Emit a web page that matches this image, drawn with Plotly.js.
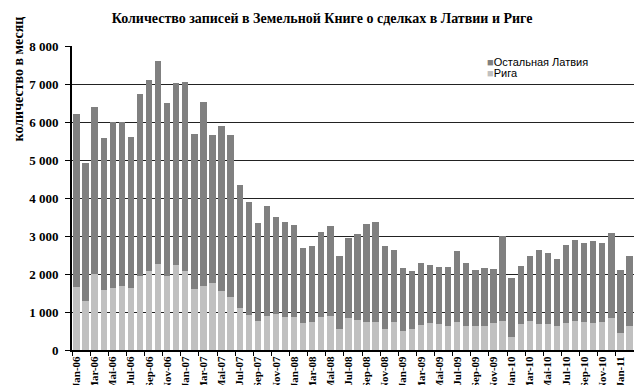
<!DOCTYPE html>
<html>
<head>
<meta charset="utf-8">
<script src="https://cdn.plot.ly/plotly-3.0.1.min.js"></script>
<style>html,body{margin:0;padding:0;background:#fff;}#chart{width:634px;height:385px;}</style>
</head>
<body>
<div id="chart"></div>
<script>
const months = [
  'Jan-06','Feb-06','Mar-06','Apr-06','Mai-06','Jun-06','Jul-06','Aug-06','Sep-06','Oct-06','Nov-06','Dec-06',
  'Jan-07','Feb-07','Mar-07','Apr-07','Mai-07','Jun-07','Jul-07','Aug-07','Sep-07','Oct-07','Nov-07','Dec-07',
  'Jan-08','Feb-08','Mar-08','Apr-08','Mai-08','Jun-08','Jul-08','Aug-08','Sep-08','Oct-08','Nov-08','Dec-08',
  'Jan-09','Feb-09','Mar-09','Apr-09','Mai-09','Jun-09','Jul-09','Aug-09','Sep-09','Oct-09','Nov-09','Dec-09',
  'Jan-10','Feb-10','Mar-10','Apr-10','Mai-10','Jun-10','Jul-10','Aug-10','Sep-10','Oct-10','Nov-10','Dec-10',
  'Jan-11','Feb-11'
];
// Total records per month (Latvia incl. Riga)
const totalLatvia = [
  6210,4920,6400,5580,6000,5990,5610,6750,7110,7600,6510,7030,
  7050,5690,6530,5670,5890,5670,4340,3890,3340,3790,3500,3370,
  3290,2680,2740,3100,3260,2470,2950,3050,3320,3370,2740,2630,
  2160,2080,2290,2240,2180,2180,2610,2290,2110,2160,2130,2990,
  1890,2210,2470,2630,2550,2390,2760,2890,2820,2870,2820,3080,
  2110,2470
];
// Riga
const riga = [
  1660,1290,2000,1580,1630,1680,1630,1950,2090,2260,1950,2240,
  2090,1610,1680,1760,1550,1400,1100,920,760,900,950,870,
  870,710,740,870,890,550,840,790,740,740,550,740,
  500,550,660,710,680,630,740,630,630,630,710,760,
  340,680,760,680,680,630,710,760,740,710,740,840,
  450,630
];
const restLatvia = totalLatvia.map((t, i) => t - riga[i]);
const seriesNames = ['Остальная Латвия', 'Рига'];
const seriesColors = ['#808080', '#c0c0c0'];

const serif = "'Liberation Serif', 'Times New Roman', serif";
const sans = "'Liberation Sans', Arial, sans-serif";

const traces = [
  {type:'bar', name:seriesNames[1], x: months, y: riga, marker:{color:seriesColors[1], line:{width:0}}},
  {type:'bar', name:seriesNames[0], x: months, y: restLatvia, marker:{color:seriesColors[0], line:{width:0}}}
];

const legendAnn = seriesNames.map((n, i) => ({
  text: '<span style="color:' + seriesColors[i] + '">■</span>' + n,
  xref:'paper', yref:'paper', x:0.735, y:0.948 - i*0.036, xanchor:'left', yanchor:'middle',
  showarrow:false, font:{family:sans, size:11, color:'#000'}
}));

const layout = {
  width: 634, height: 385,
  margin: {l:72, r:0, t:46, b:35, pad:0},
  paper_bgcolor:'#fff', plot_bgcolor:'#fff',
  barmode:'stack', bargap:0.3,
  separators: ', ',
  showlegend:false,
  title:{text:'<b>Количество записей в Земельной Книге о сделках в Латвии и Риге</b>',
    font:{family:serif, size:14, color:'#000'}, x:0.445, xref:'paper', xanchor:'center', y:0.953, yref:'container', yanchor:'middle'},
  xaxis:{type:'category', tickmode:'linear', tick0:0, dtick:2, tickangle:-90,
    tickson:'boundaries', ticks:'outside', ticklen:4, tickcolor:'#000', tickwidth:1,
    showline:true, linecolor:'#000', linewidth:2, showgrid:false,
    tickfont:{family:serif, size:11, color:'#000', weight:700}, range:[-0.5, 61.5], fixedrange:true},
  yaxis:{range:[0,8000], dtick:1000, tickformat:',d', ticks:'outside', ticklen:5, tickcolor:'#000',
    showline:true, linecolor:'#000', linewidth:2, showgrid:true, gridcolor:'#222', gridwidth:1,
    zeroline:false, tickfont:{family:serif, size:13, color:'#000', weight:700}, ticklabelstandoff:4, fixedrange:true},
  annotations: legendAnn.concat([{text:'<b>количество в месяц</b>', textangle:-90, xref:'paper', yref:'paper',
    x:-0.096, y:0.89, xanchor:'center', yanchor:'middle', showarrow:false,
    font:{family:serif, size:14, color:'#000'}}])
};

Plotly.newPlot('chart', traces, layout, {displayModeBar:false, staticPlot:true});
</script>
</body>
</html>
